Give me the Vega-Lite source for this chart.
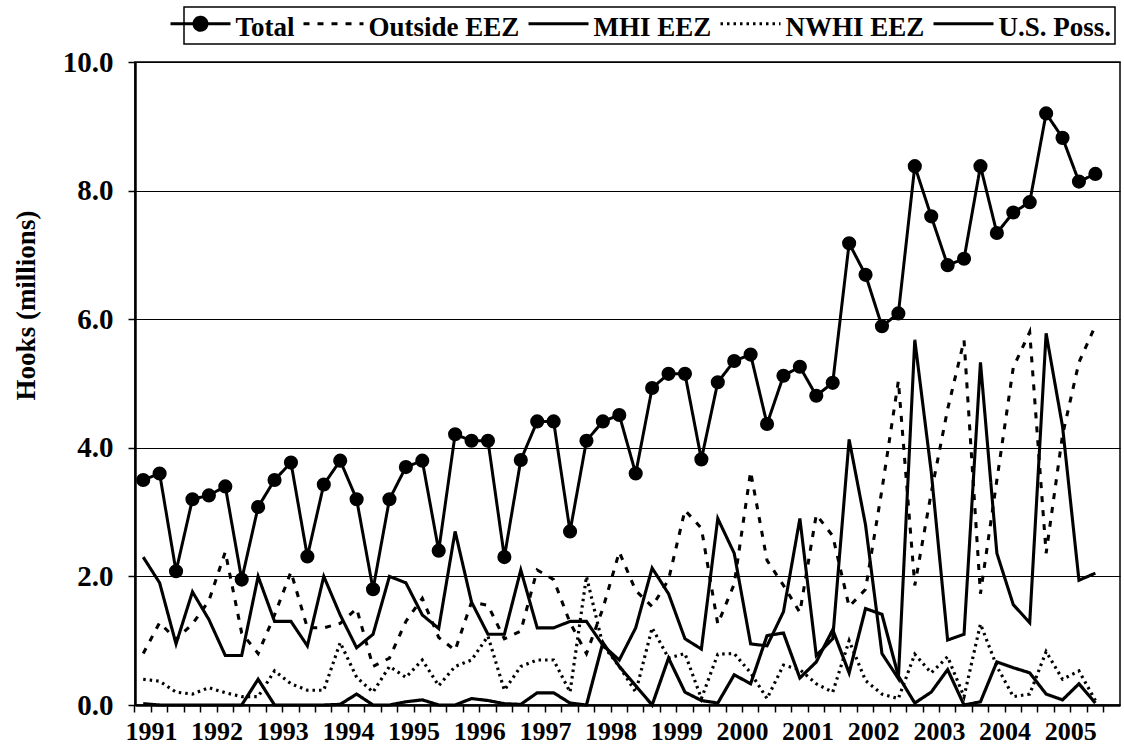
{
  "$schema": "https://vega.github.io/schema/vega-lite/v6.json",
  "width": 985,
  "height": 643,
  "autosize": "none",
  "padding": {"left": 135, "top": 62, "right": 4, "bottom": 44},
  "background": "white",
  "config": {
    "view": {"stroke": "black", "strokeWidth": 1.5},
    "font": "Liberation Serif"
  },
  "data": {
    "values": [
      {"q": "1991Q1", "Total": 3.50, "Outside": 0.80, "MHI": 2.30, "NWHI": 0.40, "US": 0.02},
      {"q": "1991Q2", "Total": 3.60, "Outside": 1.28, "MHI": 1.90, "NWHI": 0.37, "US": 0.00},
      {"q": "1991Q3", "Total": 2.08, "Outside": 1.02, "MHI": 0.95, "NWHI": 0.20, "US": 0.00},
      {"q": "1991Q4", "Total": 3.20, "Outside": 1.26, "MHI": 1.76, "NWHI": 0.17, "US": 0.00},
      {"q": "1992Q1", "Total": 3.26, "Outside": 1.62, "MHI": 1.33, "NWHI": 0.27, "US": 0.00},
      {"q": "1992Q2", "Total": 3.40, "Outside": 2.38, "MHI": 0.77, "NWHI": 0.19, "US": 0.00},
      {"q": "1992Q3", "Total": 1.95, "Outside": 1.12, "MHI": 0.77, "NWHI": 0.13, "US": 0.00},
      {"q": "1992Q4", "Total": 3.08, "Outside": 0.80, "MHI": 2.00, "NWHI": 0.13, "US": 0.40},
      {"q": "1993Q1", "Total": 3.50, "Outside": 1.40, "MHI": 1.30, "NWHI": 0.53, "US": 0.00},
      {"q": "1993Q2", "Total": 3.77, "Outside": 2.07, "MHI": 1.30, "NWHI": 0.33, "US": 0.00},
      {"q": "1993Q3", "Total": 2.31, "Outside": 1.20, "MHI": 0.92, "NWHI": 0.23, "US": 0.00},
      {"q": "1993Q4", "Total": 3.43, "Outside": 1.20, "MHI": 2.00, "NWHI": 0.23, "US": 0.00},
      {"q": "1994Q1", "Total": 3.80, "Outside": 1.27, "MHI": 1.40, "NWHI": 0.97, "US": 0.01},
      {"q": "1994Q2", "Total": 3.20, "Outside": 1.50, "MHI": 0.89, "NWHI": 0.43, "US": 0.17},
      {"q": "1994Q3", "Total": 1.80, "Outside": 0.60, "MHI": 1.10, "NWHI": 0.20, "US": 0.00},
      {"q": "1994Q4", "Total": 3.20, "Outside": 0.73, "MHI": 2.00, "NWHI": 0.60, "US": 0.00},
      {"q": "1995Q1", "Total": 3.70, "Outside": 1.30, "MHI": 1.90, "NWHI": 0.43, "US": 0.05},
      {"q": "1995Q2", "Total": 3.80, "Outside": 1.66, "MHI": 1.40, "NWHI": 0.70, "US": 0.08},
      {"q": "1995Q3", "Total": 2.40, "Outside": 1.05, "MHI": 1.19, "NWHI": 0.30, "US": 0.00},
      {"q": "1995Q4", "Total": 4.21, "Outside": 0.85, "MHI": 2.70, "NWHI": 0.60, "US": 0.00},
      {"q": "1996Q1", "Total": 4.11, "Outside": 1.60, "MHI": 1.60, "NWHI": 0.70, "US": 0.10},
      {"q": "1996Q2", "Total": 4.11, "Outside": 1.55, "MHI": 1.10, "NWHI": 1.07, "US": 0.07},
      {"q": "1996Q3", "Total": 2.30, "Outside": 1.03, "MHI": 1.10, "NWHI": 0.23, "US": 0.02},
      {"q": "1996Q4", "Total": 3.81, "Outside": 1.15, "MHI": 2.10, "NWHI": 0.60, "US": 0.01},
      {"q": "1997Q1", "Total": 4.41, "Outside": 2.10, "MHI": 1.20, "NWHI": 0.70, "US": 0.19},
      {"q": "1997Q2", "Total": 4.41, "Outside": 1.95, "MHI": 1.20, "NWHI": 0.70, "US": 0.19},
      {"q": "1997Q3", "Total": 2.70, "Outside": 1.28, "MHI": 1.30, "NWHI": 0.20, "US": 0.03},
      {"q": "1997Q4", "Total": 4.11, "Outside": 0.80, "MHI": 1.30, "NWHI": 2.00, "US": 0.00},
      {"q": "1998Q1", "Total": 4.41, "Outside": 1.50, "MHI": 0.93, "NWHI": 0.93, "US": 0.97},
      {"q": "1998Q2", "Total": 4.51, "Outside": 2.38, "MHI": 0.70, "NWHI": 0.60, "US": 0.60},
      {"q": "1998Q3", "Total": 3.60, "Outside": 1.78, "MHI": 1.20, "NWHI": 0.20, "US": 0.30},
      {"q": "1998Q4", "Total": 4.93, "Outside": 1.53, "MHI": 2.13, "NWHI": 1.20, "US": 0.00},
      {"q": "1999Q1", "Total": 5.15, "Outside": 1.95, "MHI": 1.73, "NWHI": 0.73, "US": 0.73},
      {"q": "1999Q2", "Total": 5.15, "Outside": 3.03, "MHI": 1.03, "NWHI": 0.80, "US": 0.20},
      {"q": "1999Q3", "Total": 3.82, "Outside": 2.75, "MHI": 0.87, "NWHI": 0.10, "US": 0.07},
      {"q": "1999Q4", "Total": 5.02, "Outside": 1.26, "MHI": 2.90, "NWHI": 0.79, "US": 0.03},
      {"q": "2000Q1", "Total": 5.35, "Outside": 1.88, "MHI": 2.36, "NWHI": 0.80, "US": 0.47},
      {"q": "2000Q2", "Total": 5.45, "Outside": 3.63, "MHI": 0.95, "NWHI": 0.50, "US": 0.33},
      {"q": "2000Q3", "Total": 4.37, "Outside": 2.25, "MHI": 0.92, "NWHI": 0.10, "US": 1.08},
      {"q": "2000Q4", "Total": 5.12, "Outside": 1.86, "MHI": 1.45, "NWHI": 0.62, "US": 1.12},
      {"q": "2001Q1", "Total": 5.26, "Outside": 1.44, "MHI": 2.90, "NWHI": 0.55, "US": 0.42},
      {"q": "2001Q2", "Total": 4.81, "Outside": 2.96, "MHI": 0.77, "NWHI": 0.33, "US": 0.67},
      {"q": "2001Q3", "Total": 5.01, "Outside": 2.63, "MHI": 1.03, "NWHI": 0.20, "US": 1.17},
      {"q": "2001Q4", "Total": 7.18, "Outside": 1.53, "MHI": 4.13, "NWHI": 1.00, "US": 0.50},
      {"q": "2002Q1", "Total": 6.69, "Outside": 1.80, "MHI": 2.80, "NWHI": 0.38, "US": 1.50},
      {"q": "2002Q2", "Total": 5.89, "Outside": 3.35, "MHI": 0.80, "NWHI": 0.17, "US": 1.41},
      {"q": "2002Q3", "Total": 6.09, "Outside": 5.04, "MHI": 0.41, "NWHI": 0.10, "US": 0.45},
      {"q": "2002Q4", "Total": 8.38, "Outside": 1.86, "MHI": 5.68, "NWHI": 0.79, "US": 0.03},
      {"q": "2003Q1", "Total": 7.60, "Outside": 3.30, "MHI": 3.63, "NWHI": 0.50, "US": 0.20},
      {"q": "2003Q2", "Total": 6.84, "Outside": 4.60, "MHI": 1.01, "NWHI": 0.75, "US": 0.55},
      {"q": "2003Q3", "Total": 6.94, "Outside": 5.67, "MHI": 1.10, "NWHI": 0.13, "US": 0.00},
      {"q": "2003Q4", "Total": 8.38, "Outside": 1.73, "MHI": 5.33, "NWHI": 1.26, "US": 0.05},
      {"q": "2004Q1", "Total": 7.34, "Outside": 3.50, "MHI": 2.36, "NWHI": 0.60, "US": 0.67},
      {"q": "2004Q2", "Total": 7.66, "Outside": 5.25, "MHI": 1.56, "NWHI": 0.13, "US": 0.58},
      {"q": "2004Q3", "Total": 7.82, "Outside": 5.80, "MHI": 1.28, "NWHI": 0.17, "US": 0.50},
      {"q": "2004Q4", "Total": 9.20, "Outside": 2.36, "MHI": 5.78, "NWHI": 0.83, "US": 0.17},
      {"q": "2005Q1", "Total": 8.82, "Outside": 4.20, "MHI": 4.33, "NWHI": 0.40, "US": 0.08},
      {"q": "2005Q2", "Total": 8.14, "Outside": 5.33, "MHI": 1.94, "NWHI": 0.53, "US": 0.33},
      {"q": "2005Q3", "Total": 8.26, "Outside": 5.90, "MHI": 2.05, "NWHI": 0.07, "US": 0.03}
    ]
  },
  "transform": [
    {"fold": ["Total", "Outside", "MHI", "NWHI", "US"], "as": ["series", "v"]}
  ],
  "encoding": {
    "x": {
      "field": "q",
      "type": "ordinal",
      "sort": null,
      "scale": {
        "type": "band",
        "paddingInner": 0,
        "paddingOuter": 0,
        "domain": [
          "1991Q1","1991Q2","1991Q3","1991Q4","1992Q1","1992Q2","1992Q3","1992Q4",
          "1993Q1","1993Q2","1993Q3","1993Q4","1994Q1","1994Q2","1994Q3","1994Q4",
          "1995Q1","1995Q2","1995Q3","1995Q4","1996Q1","1996Q2","1996Q3","1996Q4",
          "1997Q1","1997Q2","1997Q3","1997Q4","1998Q1","1998Q2","1998Q3","1998Q4",
          "1999Q1","1999Q2","1999Q3","1999Q4","2000Q1","2000Q2","2000Q3","2000Q4",
          "2001Q1","2001Q2","2001Q3","2001Q4","2002Q1","2002Q2","2002Q3","2002Q4",
          "2003Q1","2003Q2","2003Q3","2003Q4","2004Q1","2004Q2","2004Q3","2004Q4",
          "2005Q1","2005Q2","2005Q3","2005Q4"
        ]
      },
      "axis": {
        "title": null,
        "bandPosition": 0,
        "labelOffset": 8.2,
        "labelExpr": "slice(datum.label, 4) === 'Q1' ? slice(datum.label, 0, 4) : ''",
        "labelAngle": 0,
        "labelFont": "Liberation Serif",
        "labelFontWeight": "bold",
        "labelFontSize": 26,
        "labelColor": "black",
        "labelPadding": 6,
        "labelOverlap": false,
        "labelBound": false,
        "tickColor": "black",
        "tickSize": 7,
        "tickWidth": 1.5,
        "domainColor": "black",
        "domainWidth": 2.5,
        "grid": false
      }
    },
    "y": {
      "field": "v",
      "type": "quantitative",
      "scale": {"domain": [0, 10], "nice": false},
      "axis": {
        "title": "Hooks (millions)",
        "titleFont": "Liberation Serif",
        "titleFontWeight": "bold",
        "titleFontSize": 27,
        "titleColor": "black",
        "titleX": -109,
        "titleY": 243,
        "titleBaseline": "middle",
        "titleAlign": "center",
        "titleAngle": -90,
        "values": [0, 2, 4, 6, 8, 10],
        "format": ".1f",
        "labelFont": "Liberation Serif",
        "labelFontWeight": "bold",
        "labelFontSize": 29,
        "labelColor": "black",
        "labelPadding": 15,
        "tickColor": "black",
        "tickSize": 7,
        "tickWidth": 1.5,
        "domainColor": "black",
        "domainWidth": 2.5,
        "grid": true,
        "gridColor": "black",
        "gridWidth": 1
      }
    }
  },
  "layer": [
    {
      "mark": {"type": "line", "strokeJoin": "miter", "strokeCap": "butt"},
      "encoding": {
        "detail": {"field": "series"},
        "color": {
          "field": "series",
          "type": "nominal",
          "scale": {
            "domain": ["Total", "Outside", "MHI", "NWHI", "US"],
            "range": ["black", "black", "black", "black", "black"]
          },
          "legend": {
            "title": null,
            "orient": "none",
            "legendX": 49,
            "legendY": -55,
            "direction": "horizontal",
            "columns": 5,
            "strokeColor": "black",
            "fillColor": "white",
            "padding": 3,
            "columnPadding": 2,
            "labelOffset": 21.5,
            "symbolSize": 400,
            "labelFont": "Liberation Serif",
            "labelFontWeight": "bold",
            "labelFontSize": 27,
            "labelColor": "black",
            "labelLimit": 400,
            "labelExpr": "{'Total': 'Total', 'Outside': 'Outside EEZ', 'MHI': 'MHI EEZ', 'NWHI': 'NWHI EEZ', 'US': 'U.S. Poss.'}[datum.label]",
            "encode": {
              "legend": {
                "update": {"strokeWidth": {"value": 1.5}}
              },
              "labels": {
                "update": {"dy": {"value": 4}}
              },
              "symbols": {
                "update": {
                  "shape": {"signal": "datum.value === 'Total' ? 'M-3,0L3,0M0.65,0A0.65,0.65,0,1,1,-0.65,0A0.65,0.65,0,1,1,0.65,0Z' : 'M-3,0L3,0'"},
                  "fill": {"signal": "datum.value === 'Total' ? 'black' : 'transparent'"},
                  "stroke": {"value": "black"},
                  "opacity": {"value": 1},
                  "strokeWidth": {"signal": "datum.value === 'NWHI' ? 1.5 : datum.value === 'US' ? 1.3 : 3"},
                  "strokeDash": {"signal": "datum.value === 'Outside' ? [6, 8] : datum.value === 'NWHI' ? [2.5, 4] : [1, 0]"},
                  "size": {"value": 400}
                }
              }
            }
          }
        },
        "strokeDash": {
          "field": "series",
          "type": "nominal",
          "scale": {
            "domain": ["Total", "Outside", "MHI", "NWHI", "US"],
            "range": [[1, 0], [6, 8], [1, 0], [2.5, 4], [1, 0]]
          },
          "legend": null
        },
        "strokeWidth": {
          "field": "series",
          "type": "nominal",
          "scale": {
            "domain": ["Total", "Outside", "MHI", "NWHI", "US"],
            "range": [3, 3.2, 3, 1.5, 1.3]
          },
          "legend": null
        }
      }
    },
    {
      "transform": [{"filter": "datum.series === 'Total'"}],
      "mark": {"type": "point", "filled": true, "shape": "circle", "size": 200, "color": "black", "opacity": 1}
    }
  ]
}
